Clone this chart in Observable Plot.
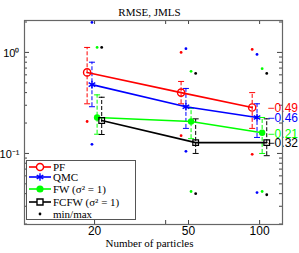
<!DOCTYPE html>
<html><head><meta charset="utf-8">
<script src="https://cdn.jsdelivr.net/npm/d3@7"></script>
<script src="https://cdn.jsdelivr.net/npm/@observablehq/plot@0.6"></script>
<style>body{margin:0;background:#fff}#c{width:299px;height:253px}</style>
</head><body><div id="c"></div>
<script>
const particles = [20, 50, 100];
const methods = ["PF", "QMC", "FW", "FCFW"];
const colors = ["#ff0000", "#0000ff", "#00ff00", "#000000"];
const xShift = [0.93, 0.975, 1.025, 1.072];
const rmsePF = [0.634, 0.40, 0.285];
const rmseQMC = [0.48, 0.29, 0.227];
const rmseFW = [0.227, 0.207, 0.16];
const rmseFCFW = [0.212, 0.128, 0.128];
const lowPF = [0.31, 0.31, 0.177];
const highPF = [1.12, 0.516, 0.40];
const lowQMC = [0.29, 0.177, 0.144];
const highQMC = [0.80, 0.44, 0.31];
const lowFW = [0.155, 0.14, 0.10];
const highFW = [0.38, 0.28, 0.227];
const lowFCFW = [0.154, 0.10, 0.095];
const highFCFW = [0.36, 0.22, 0.22];
const maxPF = [null, 1.0, 1.07];
const minPF = [0.207, 0.15, 0.098];
const maxQMC = [1.98, 1.09, 0.955];
const minQMC = [0.123, 0.105, 0.041];
const maxFW = [1.12, 0.65, 0.69];
const minFW = [null, 0.042, 0.042];
const maxFCFW = [1.12, 0.62, 0.62];
const minFCFW = [null, 0.040, 0.039];
const slopes = ["\u22120.49", "\u22120.46", "\u22120.21", "\u22120.32"];
const legendLabels = ["PF", "QMC", "FW (\u03c3\u00b2 = 1)", "FCFW (\u03c3\u00b2 = 1)", "min/max"];
const yMajor = [0.1, 1];
const yMajorLabels = ["10\u207b\u00b9", "10\u2070"];
const yMinor = [0.02,0.03,0.04,0.05,0.06,0.07,0.08,0.09,0.2,0.3,0.4,0.5,0.6,0.7,0.8,0.9,2];
const xTicks = [20, 40, 50, 100];

const means = [rmsePF, rmseQMC, rmseFW, rmseFCFW];
const lows = [lowPF, lowQMC, lowFW, lowFCFW];
const highs = [highPF, highQMC, highFW, highFCFW];
const maxs = [maxPF, maxQMC, maxFW, maxFCFW];
const mins = [minPF, minQMC, minFW, minFCFW];

const rows = [];
const extremes = [];
methods.forEach((m, i) => particles.forEach((n, j) => {
  rows.push({method: m, n, x: n * xShift[i], y: means[i][j], lo: lows[i][j], hi: highs[i][j]});
  if (maxs[i][j] != null) extremes.push({method: m, x: n * xShift[i], y: maxs[i][j]});
  if (mins[i][j] != null) extremes.push({method: m, x: n * xShift[i], y: mins[i][j]});
}));
const ends = methods.map((m, i) => ({method: m, x: particles[2], y: means[i][2], text: slopes[i]}));

const cap = {draw(ctx) { ctx.moveTo(-3, 0); ctx.lineTo(3, 0); }};
const W = 299, H = 253, mL = 24, mR = 17, mT = 20, mB = 29;
const iw = W - mL - mR, ih = H - mT - mB;
const sans = "Liberation Sans, Arial, sans-serif";
const serif = "Liberation Serif, Times New Roman, serif";
const by = m => d => d.method === m;

const chart = Plot.plot({
  width: W, height: H,
  marginLeft: mL, marginRight: mR, marginTop: mT, marginBottom: mB,
  style: {fontFamily: sans, background: "#fff"},
  x: {type: "log", domain: [10.1, 125], axis: null},
  y: {type: "log", domain: [0.0198, 2.07], axis: null},
  color: {domain: methods, range: colors},
  marks: [
    Plot.tickY(yMinor, {y: d => d, insetRight: iw - 3, stroke: "#444"}),
    Plot.tickY(yMinor, {y: d => d, insetLeft: iw - 3, stroke: "#444"}),
    Plot.tickY(yMajor, {y: d => d, insetRight: iw - 5, stroke: "#444"}),
    Plot.tickY(yMajor, {y: d => d, insetLeft: iw - 5, stroke: "#444"}),
    Plot.tickX(xTicks, {x: d => d, insetTop: ih - 4, stroke: "#444"}),
    Plot.tickX(xTicks, {x: d => d, insetBottom: ih - 4, stroke: "#444"}),
    Plot.text(yMajor, {y: d => d, text: (d, i) => yMajorLabels[i], frameAnchor: "left", dx: -5, dy: 1, textAnchor: "end", fontSize: 11, fill: "#000"}),
    Plot.text(particles, {x: d => d, text: d => String(d), frameAnchor: "bottom", dy: 10, fontSize: 12, fill: "#000"}),
    Plot.text(["RMSE, JMLS"], {frameAnchor: "top", dx: -4, dy: -12, fontFamily: serif, fontSize: 11, fill: "#000"}),
    Plot.text(["Number of particles"], {frameAnchor: "bottom", dx: -4, dy: 22, fontFamily: serif, fontSize: 11, fill: "#000"}),
    Plot.dot(extremes, {x: "x", y: "y", fill: "method", r: 1.4}),
    Plot.ruleX(rows, {x: "x", y1: "lo", y2: "hi", stroke: "method", strokeWidth: 1, strokeDasharray: "4,2"}),
    Plot.dot(rows, {x: "x", y: "hi", symbol: cap, stroke: "method", strokeWidth: 1}),
    Plot.dot(rows, {x: "x", y: "lo", symbol: cap, stroke: "method", strokeWidth: 1}),
    Plot.line(rows, {x: "x", y: "y", z: "method", stroke: "method", strokeWidth: 1.6}),
    Plot.dot(rows.filter(by("PF")), {x: "x", y: "y", r: 3.6, stroke: "method", strokeWidth: 1.4, fill: "none"}),
    Plot.dot(rows.filter(by("QMC")), {x: "x", y: "y", r: 3.6, symbol: "asterisk", stroke: "method", strokeWidth: 1.4}),
    Plot.dot(rows.filter(by("FW")), {x: "x", y: "y", r: 3.2, fill: "method"}),
    Plot.dot(rows.filter(by("FCFW")), {x: "x", y: "y", r: 3.2, symbol: "square", stroke: "method", strokeWidth: 1.2, fill: "none"}),
    Plot.text(ends, {x: "x", y: "y", text: "text", fill: "method", dx: 8, dy: 1, textAnchor: "start", fontSize: 12}),
    Plot.frame({stroke: "#666", strokeWidth: 1.2})
  ]
});
document.getElementById("c").appendChild(chart);

// legend drawn over the plot (south-west)
const svg = d3.select(chart);
const lg = svg.append("g").attr("text-anchor", "start");
lg.append("rect").attr("x", 26.5).attr("y", 160.5).attr("width", 109).attr("height", 59)
  .attr("fill", "#fff").attr("stroke", "#555").attr("stroke-width", 1);
const ly = [167, 177, 189, 202, 214];
const lSyms = [d3.symbolCircle, d3.symbolAsterisk, d3.symbolCircle, d3.symbolSquare, d3.symbolCircle];
legendLabels.forEach((t, i) => {
  const c = i < 4 ? colors[i] : "#000";
  if (i < 4) lg.append("line").attr("x1", 29).attr("x2", 51).attr("y1", ly[i]).attr("y2", ly[i]).attr("stroke", c).attr("stroke-width", 1.6);
  const size = i === 4 ? 6 : (i === 3 ? 36 : 40);
  const p = lg.append("path").attr("d", d3.symbol(lSyms[i], size)()).attr("transform", `translate(40,${ly[i]})`);
  if (i === 2 || i === 4) p.attr("fill", c);
  else p.attr("fill", i === 1 ? "none" : "#fff").attr("stroke", c).attr("stroke-width", 1.4);
  lg.append("text").attr("x", 53).attr("y", ly[i]).attr("dy", "0.32em").attr("font-family", serif)
    .attr("text-anchor", "start").attr("font-size", 11).attr("fill", "#000").text(t);
});
</script></body></html>
